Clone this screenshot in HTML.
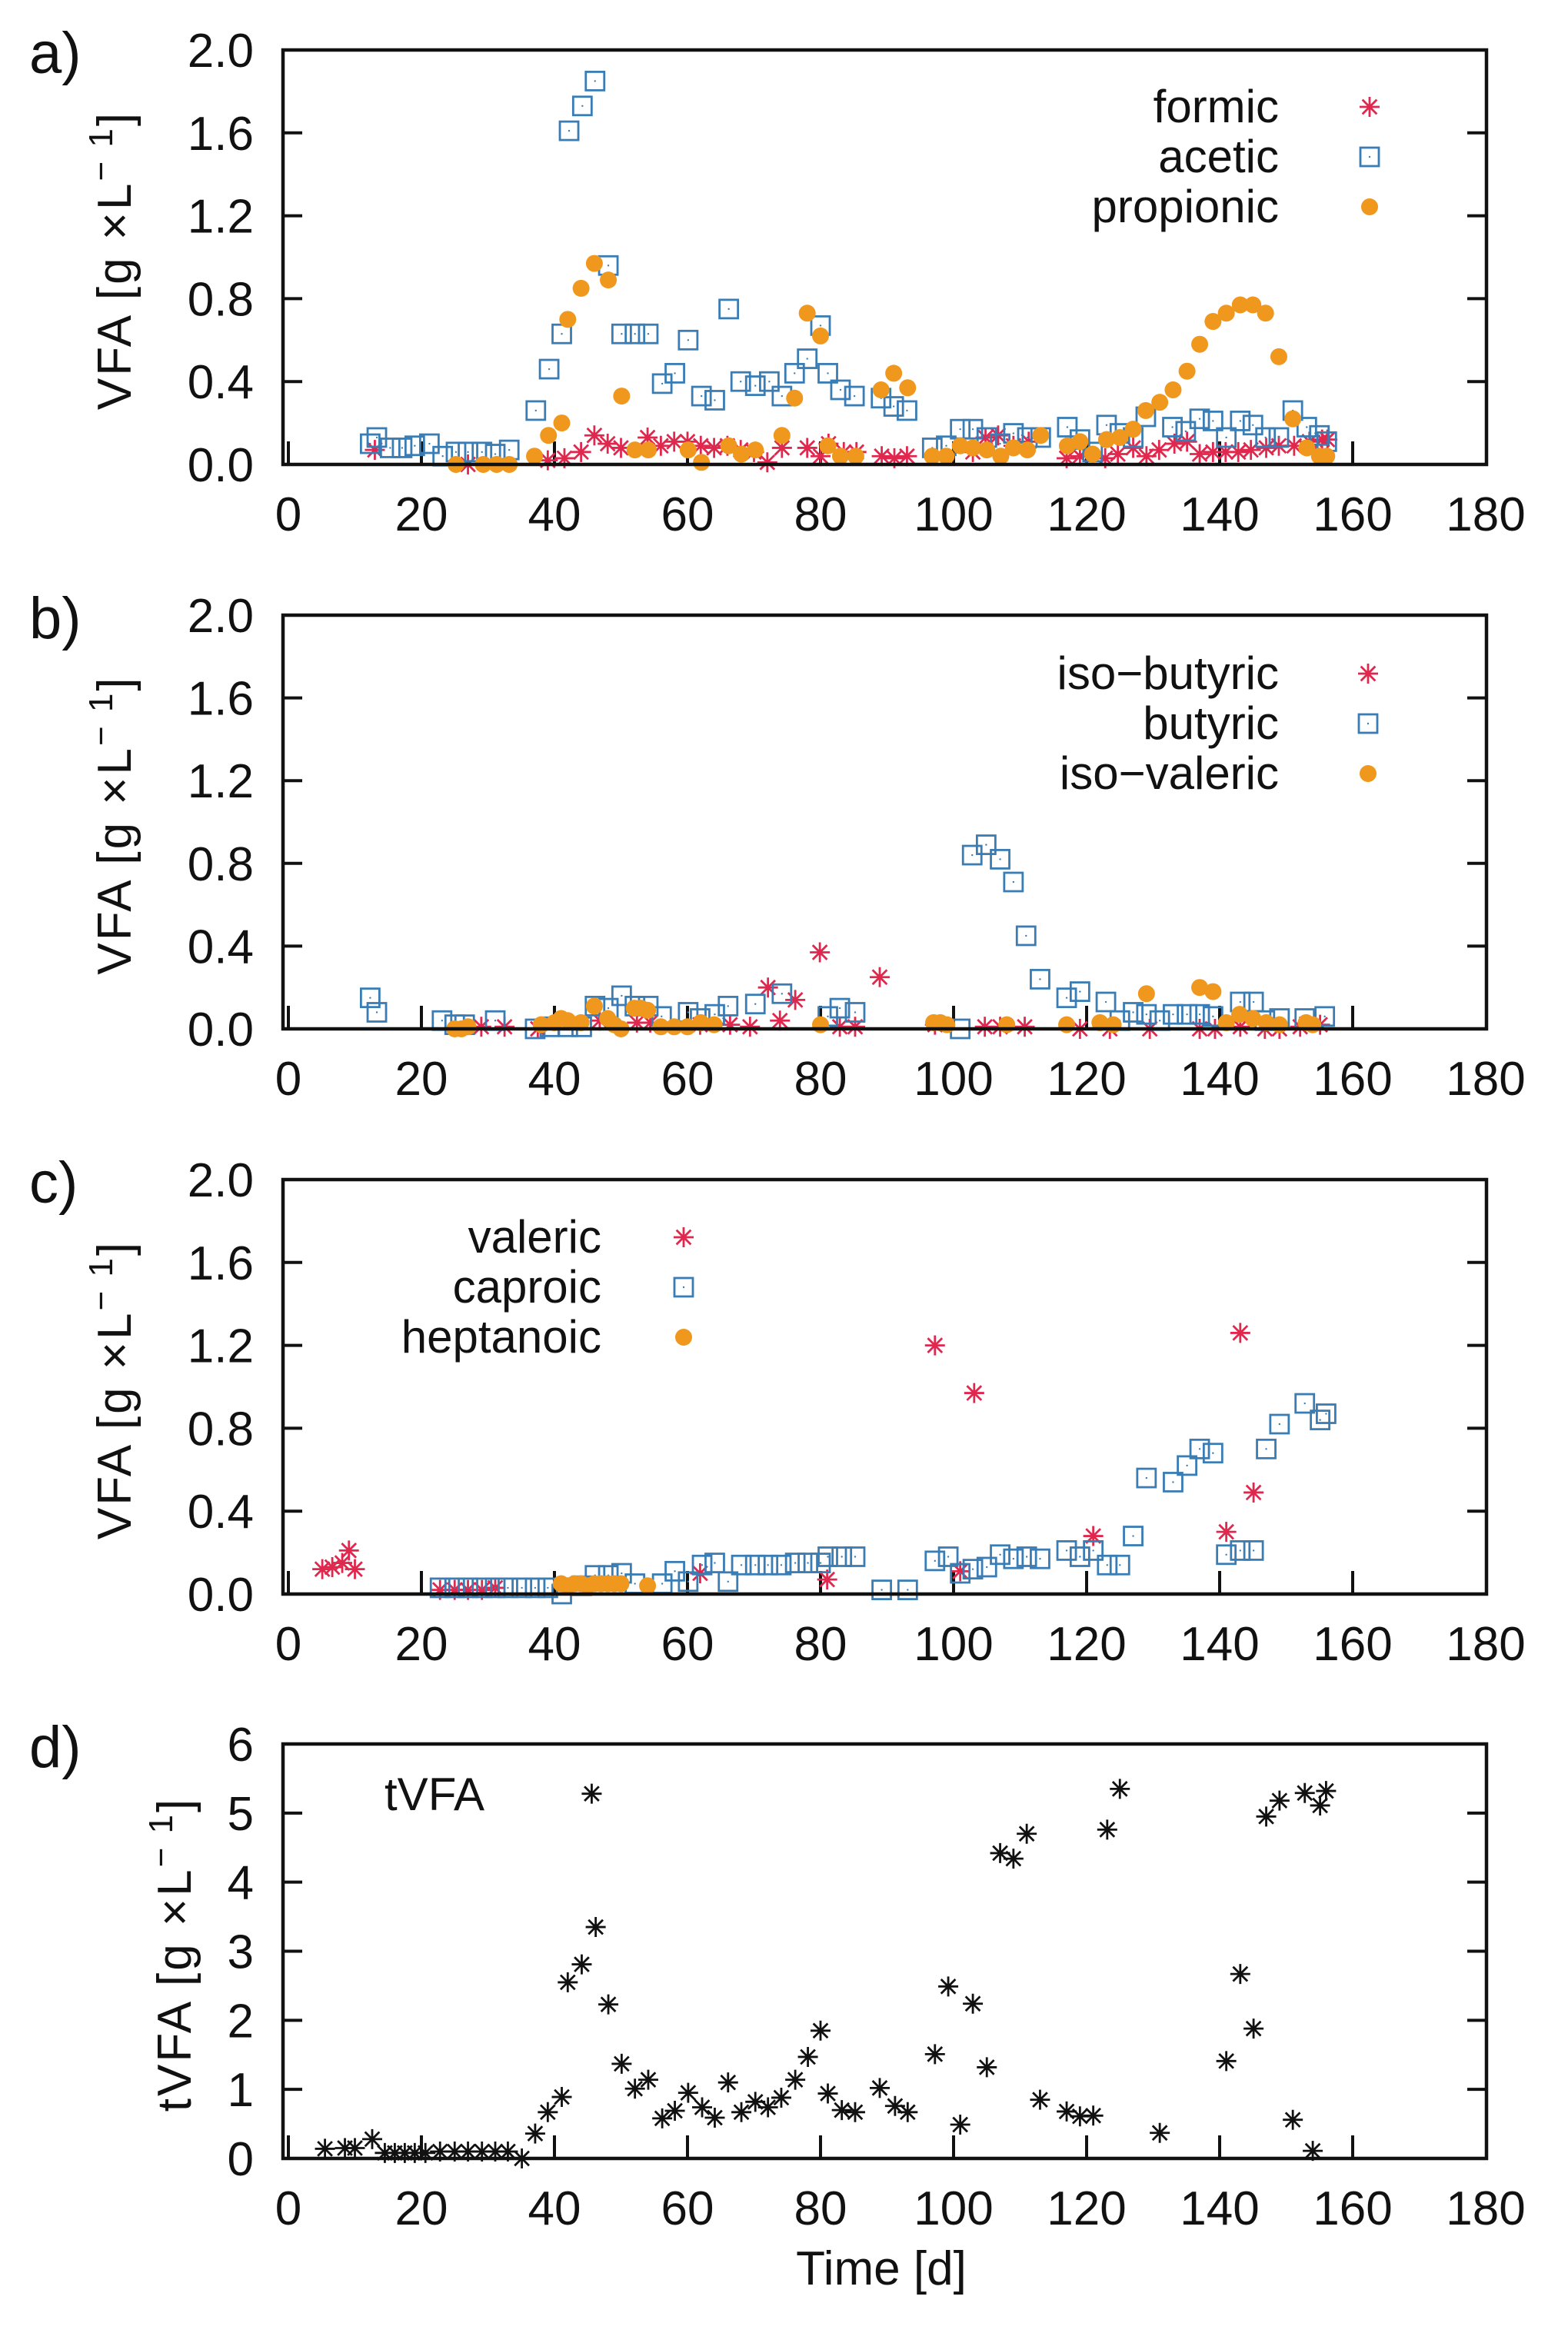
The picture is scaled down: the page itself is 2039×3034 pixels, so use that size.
<!DOCTYPE html>
<html><head><meta charset="utf-8"><style>
html,body{margin:0;padding:0;background:#fff}
svg{display:block}
text{font-family:"Liberation Sans",sans-serif;fill:#111}
</style></head><body>
<svg id="fig" width="2039" height="3034" viewBox="0 0 2039 3034" xmlns="http://www.w3.org/2000/svg"></svg>
<script>
// ---------- data ----------
const formicX=[13,27,39,41.5,44,46,48,50,54,56,58,60,62,64,66,68,70,72,74.2,78,80,81.2,83.5,85.4,89.2,91.1,93,102.9,104.8,106.7,109,111.3,117,119,122.8,124.7,127,129,130.9,133.2,135.1,137,139,140.9,142.8,144.7,147,148.9,151.2,153.5,155.4,156.2];
const formicY=[0.07,0,0.02,0.03,0.06,0.14,0.10,0.08,0.13,0.09,0.11,0.11,0.09,0.08,0.09,0.07,0.06,0.01,0.08,0.08,0.04,0.10,0.06,0.06,0.04,0.03,0.04,0.06,0.13,0.14,0.09,0.11,0.03,0.04,0.03,0.05,0.08,0.04,0.07,0.10,0.11,0.05,0.06,0.06,0.06,0.07,0.08,0.09,0.09,0.11,0.12,0.12];
const aceticX=[12.3,13.3,15.3,17.1,19,21.2,23.2,25.2,27,29.1,31.1,33.2,37.2,39.2,41.1,42.2,44.2,46.1,48.1,50.1,52.1,54.1,56.2,58.1,60.1,62.1,64.1,66.2,68,70.2,72.3,74.2,76.1,78,80,81.1,83,85.1,89.1,91,93,96.8,98.9,101,102.9,105,107,109,111.1,113.1,117.1,119,120.9,123,125,127,128.9,132.9,134.9,137,139,141,143.1,145,146.9,148.9,151,153.1,155,156.1];
const aceticY=[0.10,0.13,0.08,0.08,0.09,0.10,0.04,0.06,0.06,0.06,0.05,0.07,0.26,0.46,0.63,1.61,1.73,1.85,0.96,0.63,0.63,0.63,0.39,0.44,0.60,0.33,0.31,0.75,0.40,0.38,0.40,0.33,0.44,0.51,0.67,0.44,0.36,0.33,0.32,0.28,0.26,0.08,0.09,0.17,0.17,0.13,0.10,0.15,0.13,0.13,0.18,0.12,0.06,0.19,0.15,0.13,0.23,0.18,0.16,0.22,0.21,0.13,0.21,0.19,0.13,0.13,0.26,0.18,0.14,0.11];
const propX=[25.2,29.3,31.3,33.2,37,39.1,41.1,42,44,46,48.1,50.1,52.1,54.1,60.1,62.1,66.2,68.1,70.2,74.2,76.1,78,80,81.1,83,85.3,89.1,91,93.1,96.8,98.9,101,102.9,105,107.1,109,111.1,113.1,117.1,119,120.9,123,125,127,128.9,131,133,135.1,137,139,141,143.1,145,146.9,148.9,151,153.1,155,156.1];
const propY=[0,0,0,0,0.04,0.14,0.20,0.70,0.85,0.97,0.89,0.33,0.07,0.07,0.07,0.01,0.09,0.05,0.07,0.14,0.32,0.73,0.62,0.09,0.04,0.04,0.36,0.44,0.37,0.04,0.04,0.09,0.08,0.07,0.04,0.08,0.07,0.14,0.09,0.11,0.05,0.12,0.13,0.17,0.26,0.30,0.36,0.45,0.58,0.69,0.73,0.77,0.77,0.73,0.52,0.22,0.08,0.04,0.04];

const isobutX=[29,32.5,37.5,46.8,52.4,54.4,61.9,66.4,69.4,72.1,73.9,76.2,79.9,82.9,85.2,88.9,97.2,104.7,107,110.7,119,123.5,129.5,137,139.3,143.1,146.8,149,152.1,155.1];
const isobutY=[0.01,0.01,0,0.04,0.03,0.03,0.02,0.02,0.01,0.20,0.04,0.14,0.37,0.01,0.01,0.25,0.02,0.01,0.01,0.01,0,0,0,0,0,0.01,0,0,0.01,0.02];
const butX=[12.3,13.3,23.1,25,26.5,31.1,37.1,39.3,42,44.1,46.1,48.1,50.1,52.1,54.1,56.1,60.1,61.9,64.1,66.1,70.2,74.2,81.1,82.9,85.2,101,102.8,104.9,107,109,110.9,113,117,119,122.9,125,127,129,131,133,135.1,137,139,143.1,145.1,146.8,149,152.8,155.8];
const butY=[0.15,0.08,0.04,0.02,0.02,0.04,0,0.01,0.01,0.01,0.11,0.10,0.16,0.11,0.11,0.06,0.08,0.05,0.07,0.11,0.12,0.17,0.06,0.10,0.08,0,0.84,0.89,0.82,0.71,0.45,0.24,0.15,0.18,0.13,0.04,0.08,0.07,0.04,0.07,0.07,0.07,0.06,0.13,0.13,0.04,0.05,0.05,0.06];
const isovalX=[25,26,27,38,40,41,42,44,46,48,49,50,52,53,54,56,58,60,62,64,80,97,98,99,108,117,122,124,129,137,139,141,143,145,147,149,153,154];
const isovalY=[0,0,0.01,0.02,0.03,0.05,0.04,0.03,0.11,0.05,0.02,0,0.10,0.10,0.09,0.01,0.01,0.01,0.03,0.02,0.02,0.03,0.03,0.02,0.02,0.02,0.03,0.02,0.17,0.20,0.18,0.03,0.07,0.05,0.03,0.02,0.03,0.02];

const valX=[5.1,6.6,8.1,9.1,10,22.8,25,27,29.1,31.1,61.9,81,97.2,101,103.1,121,141,143.1,145.1];
const valY=[0.12,0.13,0.15,0.21,0.12,0.02,0.02,0.02,0.02,0.03,0.10,0.07,1.20,0.11,0.97,0.28,0.30,1.26,0.49];
const capX=[22.8,25,27,29.1,31.1,33,35.1,37.1,39,41.1,44.1,46.1,48.1,50.1,52.1,56.2,58.1,60.1,62.2,64.1,66.1,68.1,70.2,72.1,74.1,76.2,78.1,80,81.1,83.2,85.2,89.2,93.1,97.2,99.2,101,102.9,105,107,109,111,113,117,119,121,123.1,125,127,129,133,135.1,137,139,141,143.1,145.1,147,149,152.8,155.1,156];
const capY=[0.03,0.03,0.03,0.03,0.03,0.03,0.03,0.03,0.03,0,0.04,0.09,0.09,0.10,0.05,0.05,0.11,0.06,0.14,0.15,0.06,0.14,0.14,0.14,0.14,0.15,0.15,0.15,0.18,0.18,0.18,0.02,0.02,0.16,0.18,0.10,0.12,0.13,0.19,0.17,0.18,0.17,0.21,0.18,0.21,0.14,0.14,0.28,0.56,0.54,0.62,0.70,0.68,0.19,0.21,0.21,0.70,0.82,0.92,0.84,0.87];
const heptX=[41,42,43,44,45,46,47,48,49,50,54];
const heptY=[0.05,0.04,0.05,0.05,0.04,0.05,0.05,0.05,0.05,0.05,0.04];

const tvfaX=[5.5,8.5,10,12.6,14.5,16,17.5,19,20.6,22.8,25,27,29.1,31.1,33,35.1,37.1,39,41.1,42,44.1,45.6,46.2,48.1,50.1,52.1,54.1,56.2,58.1,60.1,62.2,64.1,66.1,68.1,70.2,72.1,74.1,76.2,78.1,80,81.1,83.2,85.2,88.9,91.2,93.1,97.2,99.2,101,102.9,105,107,109,111,113,117,119,121,123.1,125,131,141,143.1,145.1,147,149,151,152.8,154,155.1,156];
const tvfaY=[0.14,0.15,0.15,0.28,0.08,0.08,0.08,0.08,0.08,0.1,0.1,0.1,0.1,0.1,0.1,0,0.36,0.67,0.89,2.55,2.81,5.28,3.35,2.23,1.37,1.01,1.14,0.58,0.69,0.95,0.74,0.59,1.10,0.67,0.82,0.74,0.88,1.14,1.47,1.85,0.94,0.70,0.67,1.02,0.76,0.67,1.51,2.49,0.49,2.24,1.32,4.42,4.34,4.70,0.85,0.68,0.61,0.62,4.76,5.35,0.37,1.41,2.67,1.88,4.95,5.18,0.56,5.29,0.11,5.11,5.32];

const xTicks=[0,20,40,60,80,100,120,140,160,180];
const vfaTicks=["0.0","0.4","0.8","1.2","1.6","2.0"];
const tvfaTicks=["0","1","2","3","4","5","6"];

// ---------- drawing ----------
const NS="http://www.w3.org/2000/svg";
const svg=document.getElementById('fig');
const RED="#e0284e",BLUE="#3a7db5",ORANGE="#f0971e";
const L=368,R=1933;
function xs(d){return 375+d*(1932-375)/180;}
function mk(tag,attrs,parent){const e=document.createElementNS(NS,tag);for(const k in attrs)e.setAttribute(k,attrs[k]);(parent||svg).appendChild(e);return e;}

function asterisk(g,x,y,col){
  const s=13;
  return mk('path',{d:`M${x-s},${y}H${x+s}M${x},${y-s}V${y+s}M${x-s*0.72},${y-s*0.72}L${x+s*0.72},${y+s*0.72}M${x-s*0.72},${y+s*0.72}L${x+s*0.72},${y-s*0.72}`,stroke:col,'stroke-width':2.8,fill:'none'},g);
}
function square(g,x,y){
  const r=mk('rect',{x:x-12,y:y-12,width:24,height:24,fill:'none',stroke:BLUE,'stroke-width':2.8},g);
  mk('circle',{cx:x,cy:y,r:1.2,fill:BLUE},g);
  return r;
}
function dot(g,x,y){return mk('circle',{cx:x,cy:y,r:11,fill:ORANGE},g);}

const panels=[
 {id:'a',top:65,bot:604,max:2,ticks:vfaTicks,ylab:'VFA',ylx:150,
  series:[{name:'formic',x:formicX,y:formicY,m:'ast',col:RED},{name:'acetic',x:aceticX,y:aceticY,m:'sq'},{name:'propionic',x:propX,y:propY,m:'dot'}],
  leg:{tx:1663,sx:1781,y0:139}},
 {id:'b',top:800,bot:1338,max:2,ticks:vfaTicks,ylab:'VFA',ylx:150,
  series:[{name:'iso\u2212butyric',x:isobutX,y:isobutY,m:'ast',col:RED},{name:'butyric',x:butX,y:butY,m:'sq'},{name:'iso\u2212valeric',x:isovalX,y:isovalY,m:'dot'}],
  leg:{tx:1663,sx:1779,y0:876}},
 {id:'c',top:1534,bot:2073,max:2,ticks:vfaTicks,ylab:'VFA',ylx:150,
  series:[{name:'valeric',x:valX,y:valY,m:'ast',col:RED},{name:'caproic',x:capX,y:capY,m:'sq'},{name:'heptanoic',x:heptX,y:heptY,m:'dot'}],
  leg:{tx:782,sx:889,y0:1609}},
 {id:'d',top:2268,bot:2807,max:6,ticks:tvfaTicks,ylab:'tVFA',ylx:228,
  series:[{name:'tVFA',x:tvfaX,y:tvfaY,m:'ast',col:'#111'}],leg:null}
];

panels.forEach(P=>{
  const g=mk('g',{});
  
  
  const ys=v=>P.bot-v*(P.bot-P.top)/P.max;
  const pl=mk('text',{x:38,y:P.top+30,'font-size':76},g);pl.textContent=P.id+')';
  
  
  P.ticks.forEach((t,i)=>{
    const v=P.max*i/(P.ticks.length-1);const y=ys(v);
    if(i>0&&i<P.ticks.length-1){
      mk('line',{x1:L,x2:L+25,y1:y,y2:y,stroke:'#111','stroke-width':4},g);
      mk('line',{x1:R-25,x2:R,y1:y,y2:y,stroke:'#111','stroke-width':4},g);
    }
    const tl=mk('text',{x:330,y:y+22,'font-size':62,'text-anchor':'end'},g);tl.textContent=t;
    
    
  });
  xTicks.forEach(t=>{
    const x=xs(t);
    if(t<180) mk('line',{x1:x,x2:x,y1:P.bot,y2:P.bot-30,stroke:'#111','stroke-width':4},g);
    const tl=mk('text',{x:x,y:P.bot+86,'font-size':62,'text-anchor':'middle'},g);tl.textContent=t;
    
    
  });
  const cy=(P.top+P.bot)/2+4;
  const yt=mk('text',{x:P.ylx,y:cy,'font-size':62,'text-anchor':'middle','letter-spacing':3,transform:`rotate(-90 ${P.ylx} ${cy})`,dy:20},g);
  
  
  yt.appendChild(document.createTextNode(P.ylab+' [g \u00d7L'));
  const sup=mk('tspan',{'font-size':44,dy:-24},yt);sup.textContent='\u2212 1';
  const cl=mk('tspan',{dy:24},yt);cl.textContent=']';
  P.series.forEach((s,si)=>{
    const sg=mk('g',{},g);
    
    
    for(let i=0;i<s.x.length;i++){
      const X=xs(s.x[i]),Y=ys(s.y[i]);
      let el;
      if(s.m==='ast') el=asterisk(sg,X,Y,s.col);
      else if(s.m==='sq') el=square(sg,X,Y);
      else el=dot(sg,X,Y);
      
      
    }
    if(P.leg){
      const ly=P.leg.y0+si*65;
      const lt=mk('text',{x:P.leg.tx,y:ly+20,'font-size':60,'text-anchor':'end'},g);lt.textContent=s.name;
      
      
      if(s.m==='ast') asterisk(g,P.leg.sx,ly,s.col);
      else if(s.m==='sq') square(g,P.leg.sx,ly);
      else dot(g,P.leg.sx,ly);
    }
  });
  const fr=mk('rect',{x:L,y:P.top,width:R-L,height:P.bot-P.top,fill:'none',stroke:'#111','stroke-width':4.5},g);
  
  
});
const tv=mk('text',{x:500,y:2354,'font-size':60});tv.textContent='tVFA';


const xt=mk('text',{x:1146,y:2971,'font-size':62,'text-anchor':'middle'});xt.textContent='Time [d]';


</script>
</body></html>
